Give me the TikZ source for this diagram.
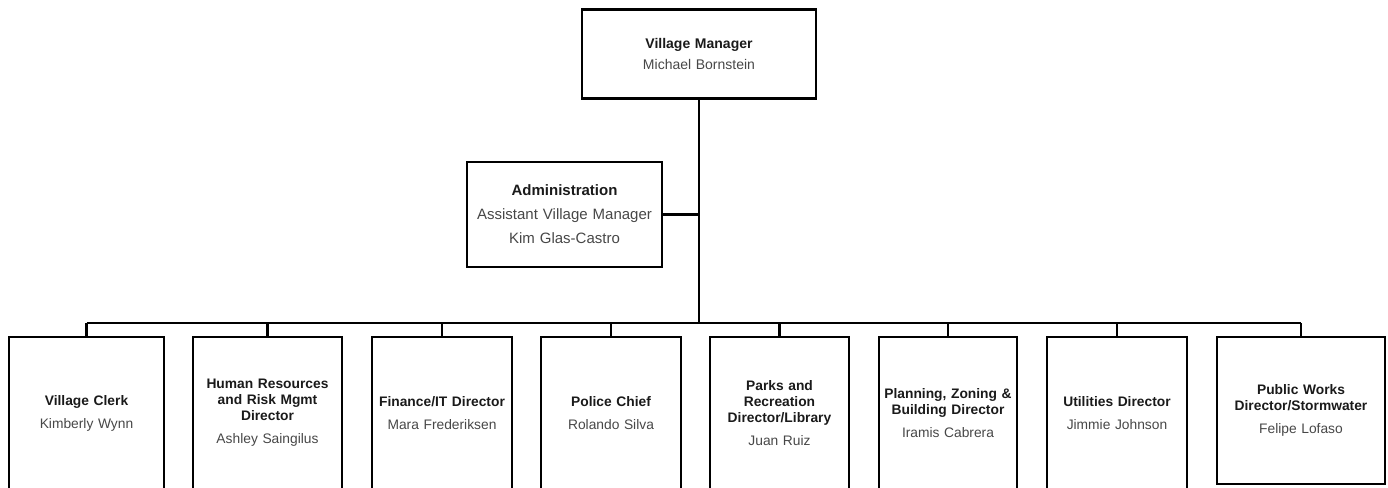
\documentclass[tikz,border=0pt]{standalone}
\usepackage{fontspec}
\setmainfont{Liberation Sans}
\definecolor{namegray}{HTML}{474747}
\definecolor{titleblack}{HTML}{1A1A1A}
\newcommand{\person}[3][7pt]{{\bfseries\color{titleblack}#2}\\[#1]{\color{namegray}#3}}
\begin{document}
\begin{tikzpicture}[x=1pt, y=-1pt,
    box/.style = {draw, line width=2.6pt, align=center, inner sep=0pt,
      font=\fontsize{13.8}{16}\selectfont},
    dept/.style = {box, minimum height=152pt, text width=136pt},
    link/.style = {line width=2.2pt}]
  \useasboundingbox (0,0) rectangle (1388,487);
  \clip (0,0) rectangle (1388,487);

  \node[box, minimum width=234pt, minimum height=89pt, text width=220pt,
    font=\fontsize{14}{17}\selectfont] (vm) at (699,54)
    {\person[4pt]{Village Manager}{Michael Bornstein}};
  \node[box, minimum width=195pt, minimum height=105pt, text width=190pt,
    font=\fontsize{15}{18}\selectfont] (adm) at (564.5,214.5)
    {{\bfseries\color{titleblack}Administration}\\[6pt]
     {\color{namegray}Assistant Village Manager}\\[6pt]
     {\color{namegray}Kim Glas-Castro}};

  \coordinate (bus) at (0,323);

  \node[dept, minimum width=155pt] (clerk) at (86.5,413)
    {\person{Village Clerk}{Kimberly Wynn}};
  \node[dept, minimum width=149pt] (hr) at (267.5,413)
    {\person{Human Resources\\and Risk Mgmt\\Director}{Ashley Saingilus}};
  \node[dept, minimum width=140pt] (fin) at (442,413)
    {\person{Finance/IT Director}{Mara Frederiksen}};
  \node[dept, minimum width=140pt] (police) at (611,413)
    {\person{Police Chief}{Rolando Silva}};
  \node[dept, minimum width=139pt] (parks) at (779.5,413)
    {\person{Parks and\\Recreation\\Director/Library}{Juan Ruiz}};
  \node[dept, minimum width=138pt] (plan) at (948,413)
    {\person{Planning, Zoning \&\\Building Director}{Iramis Cabrera}};
  \node[dept, minimum width=140pt] (util) at (1117,413)
    {\person{Utilities Director}{Jimmie Johnson}};
  \node[box, minimum width=168pt, minimum height=147pt, text width=160pt] (works) at (1301,410.5)
    {\person{Public Works\\Director/Stormwater}{Felipe Lofaso}};

  % reporting lines
  \draw[link] (vm.south) -- (vm.south |- bus);
  \draw[link] (adm.east) -- (adm.east -| vm.south);
  \draw[link] (clerk.north |- bus) -- (works.north |- bus);
  \foreach \d in {clerk, hr, fin, police, parks, plan, util, works}
    \draw[link] (\d.north) -- (\d.north |- bus);
\end{tikzpicture}
\end{document}
